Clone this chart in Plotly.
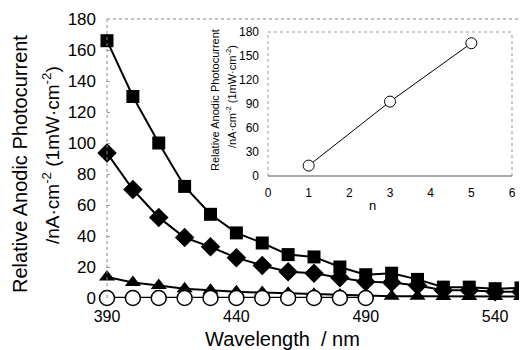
import plotly.graph_objects as go

wavelength = [390, 400, 410, 420, 430, 440, 450, 460, 470, 480, 490, 500, 510, 520, 530, 540, 550]
n5_square = [166, 130, 100, 72, 54, 42, 35.5, 28, 26.5, 20, 15, 16, 12, 7, 7, 6, 6.5]
n3_diamond = [93.5, 70, 52, 39, 33, 26, 21, 17, 16, 13, 10.5, 10, 8, 5, 5, 4, 4]
n1_triangle = [13.5, 10, 8, 6, 5, 4, 3.5, 3, 2.5, 2, 1.5, 1.2, 1.1, 1, 1, 1, 1]
wl_zero = [390, 400, 410, 420, 430, 440, 450, 460, 470, 480, 490]
n0_circle = [0, 0, 0, 0, 0, 0, 0, 0, 0, 0, 0]
wl_open_tri = [390, 400, 410, 420, 430, 440, 450, 460]
open_tri = [-0.8, -0.8, -0.8, -0.8, -0.8, -0.8, -0.8, -0.8]

inset_n = [1, 3, 5]
inset_current = [13, 93, 166]

main_xticks = [390, 440, 490, 540]
main_yticks = [0, 20, 40, 60, 80, 100, 120, 140, 160, 180]
inset_xticks = [0, 1, 2, 3, 4, 5, 6]
inset_yticks = [0, 30, 60, 90, 120, 150, 180]

FONT = "Liberation Sans, Arial, sans-serif"

# page offset from body margin (8px); plot area in page pixels: x 107..521, y 19..298
OFF = 8
PL, PR, PT, PB = 107, 521, 19, 298
PW, PH = PR - PL, PB - PT


def px(x):
    return (x - PL) / PW


def py(y):
    return (PB - y) / PH


fig = go.Figure()

fig.add_trace(go.Scatter(x=wl_open_tri, y=open_tri, mode="markers",
                         marker=dict(symbol="triangle-up-open", size=12, color="black", line=dict(width=1.2)),
                         cliponaxis=False, showlegend=False))
fig.add_trace(go.Scatter(x=wavelength, y=n1_triangle, mode="lines+markers",
                         line=dict(color="black", width=2),
                         marker=dict(symbol="triangle-up", size=14, color="black"),
                         cliponaxis=False, showlegend=False))
fig.add_trace(go.Scatter(x=wl_zero, y=n0_circle, mode="lines+markers",
                         line=dict(color="black", width=2.5),
                         marker=dict(symbol="circle", size=15, color="white", line=dict(color="black", width=1.5)),
                         cliponaxis=False, showlegend=False))
fig.add_trace(go.Scatter(x=wavelength, y=n3_diamond, mode="lines+markers",
                         line=dict(color="black", width=2),
                         marker=dict(symbol="diamond", size=15, color="black"),
                         cliponaxis=False, showlegend=False))
fig.add_trace(go.Scatter(x=wavelength, y=n5_square, mode="lines+markers",
                         line=dict(color="black", width=2),
                         marker=dict(symbol="square", size=13, color="black"),
                         cliponaxis=False, showlegend=False))

fig.add_trace(go.Scatter(x=inset_n, y=inset_current, mode="lines+markers",
                         xaxis="x2", yaxis="y2",
                         line=dict(color="black", width=1),
                         marker=dict(symbol="circle", size=11, color="white", line=dict(color="black", width=1)),
                         cliponaxis=False, showlegend=False))

ix0, ix1 = px(268), px(512)
iy0, iy1 = py(176), py(32)

fig.update_layout(
    width=527 - OFF, height=350 - OFF,
    margin=dict(l=PL - OFF, r=(527 - OFF) - (PR - OFF), t=PT - OFF, b=(350 - OFF) - (PB - OFF), autoexpand=False),
    paper_bgcolor="white", plot_bgcolor="white",
    font=dict(family=FONT, color="black"),
    xaxis=dict(range=[390, 550], tickvals=main_xticks, showgrid=False, zeroline=False,
               showline=False, ticks="", tickfont=dict(size=16), ticklabelstandoff=7),
    yaxis=dict(range=[0, 180], tickvals=main_yticks, showgrid=False, zeroline=False,
               showline=False, ticks="inside", ticklen=3, tickcolor="#999",
               tickfont=dict(size=17), ticklabelstandoff=10),
    xaxis2=dict(domain=[ix0, ix1], anchor="y2", range=[0, 6], tickvals=inset_xticks,
                showgrid=False, zeroline=False, showline=False, ticks="",
                tickfont=dict(size=12), ticklabelstandoff=8),
    yaxis2=dict(domain=[iy0, iy1], anchor="x2", range=[0, 180], tickvals=inset_yticks,
                showgrid=False, zeroline=False, showline=False, ticks="",
                tickfont=dict(size=12), ticklabelstandoff=8),
    shapes=[
        dict(type="line", xref="paper", yref="paper", x0=0, x1=1, y0=1, y1=1,
             line=dict(color="#888", width=1, dash="dot")),
        dict(type="line", xref="paper", yref="paper", x0=0, x1=0, y0=0, y1=1,
             line=dict(color="#888", width=1, dash="dot")),
        dict(type="line", xref="paper", yref="paper", x0=1, x1=1, y0=0.05, y1=1,
             line=dict(color="#888", width=1, dash="dot")),
        dict(type="line", xref="paper", yref="paper", x0=ix0, x1=ix1, y0=iy1, y1=iy1,
             line=dict(color="#999", width=1, dash="dot")),
        dict(type="line", xref="paper", yref="paper", x0=ix0, x1=ix0, y0=iy0, y1=iy1,
             line=dict(color="#999", width=1, dash="dot")),
        dict(type="line", xref="paper", yref="paper", x0=ix1, x1=ix1, y0=iy0, y1=iy1,
             line=dict(color="#999", width=1, dash="dot")),
        dict(type="line", xref="paper", yref="paper", x0=ix0, x1=ix1, y0=iy0, y1=iy0,
             line=dict(color="#555", width=1)),
    ],
    annotations=[
        dict(text="Relative Anodic Photocurrent", xref="paper", yref="paper",
             x=px(20), y=py(164), textangle=-90, showarrow=False,
             font=dict(size=20), xanchor="center", yanchor="middle"),
        dict(text="/nA·cm<sup>-2</sup> (1mW·cm<sup>-2</sup>)", xref="paper", yref="paper",
             x=px(51), y=py(155), textangle=-90, showarrow=False,
             font=dict(size=19), xanchor="center", yanchor="middle"),
        dict(text="Wavelength  / nm", xref="paper", yref="paper",
             x=px(282), y=py(339), showarrow=False,
             font=dict(size=20), xanchor="center", yanchor="middle"),
        dict(text="Relative Anodic Photocurrent", xref="paper", yref="paper",
             x=px(215), y=py(100), textangle=-90, showarrow=False,
             font=dict(size=11), xanchor="center", yanchor="middle"),
        dict(text="/nA·cm<sup>-2</sup> (1mW·cm<sup>-2</sup>)", xref="paper", yref="paper",
             x=px(231), y=py(97), textangle=-90, showarrow=False,
             font=dict(size=11), xanchor="center", yanchor="middle"),
        dict(text="n", xref="paper", yref="paper",
             x=px(372), y=py(205), showarrow=False,
             font=dict(size=13), xanchor="center", yanchor="middle"),
    ],
)

fig.write_html("out.html")
